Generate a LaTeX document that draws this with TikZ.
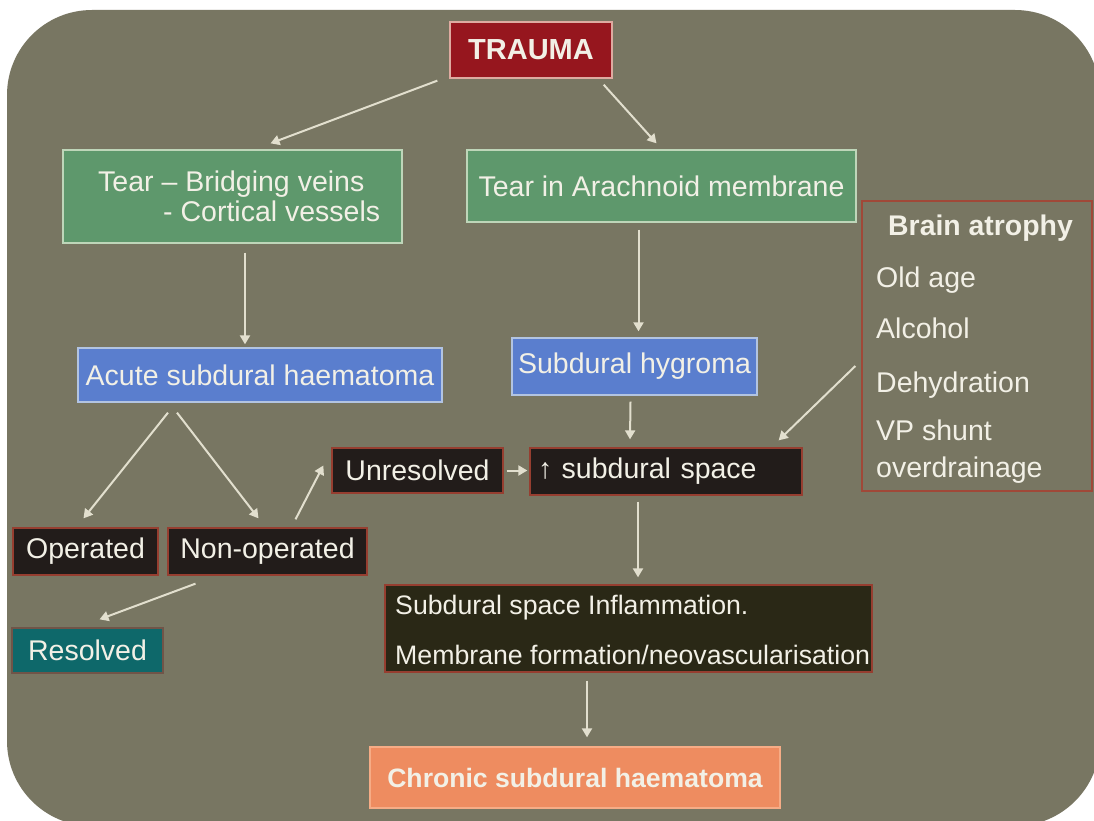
\documentclass[tikz,border=0pt]{standalone}
\usepackage{fontspec}
\setmainfont{Liberation Sans}
\usetikzlibrary{arrows.meta,calc}
\definecolor{bgc}{RGB}{120,118,98}
\definecolor{txtc}{RGB}{242,240,230}
\definecolor{arrc}{RGB}{226,223,206}
\definecolor{traumaf}{RGB}{150,22,30}
\definecolor{traumad}{RGB}{222,170,160}
\definecolor{greenf}{RGB}{94,152,108}
\definecolor{greend}{RGB}{190,214,185}
\definecolor{bluef}{RGB}{90,126,206}
\definecolor{blued}{RGB}{178,196,226}
\definecolor{darkf}{RGB}{34,28,26}
\definecolor{darkd}{RGB}{150,62,48}
\definecolor{tealf}{RGB}{14,104,106}
\definecolor{teald}{RGB}{112,84,72}
\definecolor{inflf}{RGB}{42,40,22}
\definecolor{chronf}{RGB}{238,140,96}
\definecolor{chrond}{RGB}{246,172,134}
\definecolor{atrod}{RGB}{160,72,56}
\begin{document}
\begin{tikzpicture}[x=1pt,y=-1pt,
  box/.style={draw, line width=1.3pt, inner sep=0pt, text=txtc,
    font=\fontsize{28.5}{30}\selectfont},
  traumabox/.style={box, fill=traumaf, draw=traumad, font=\fontsize{29}{30}\selectfont\bfseries},
  greenbox/.style={box, fill=greenf, draw=greend},
  bluebox/.style={box, fill=bluef, draw=blued},
  darkbox/.style={box, fill=darkf, draw=darkd},
  tealbox/.style={box, fill=tealf, draw=teald},
  inflbox/.style={box, fill=inflf, draw=darkd},
  chronbox/.style={box, fill=chronf, draw=chrond, font=\fontsize{26.6}{30}\selectfont\bfseries},
  atrobox/.style={draw=atrod, line width=1.3pt, inner sep=0pt},
  plain/.style={inner sep=0pt, text=txtc, font=\fontsize{28.5}{30}\selectfont, anchor=base west},
  arr/.style={draw=arrc, line width=2pt, -{Triangle[length=9pt,width=10pt]}}
]
\useasboundingbox (0,0) rectangle (1094,821);
\fill[white] (0,0) rectangle (1094,821);
\begin{scope}
\clip (0,0) rectangle (1094,821);
\fill[bgc, rounded corners=85pt] (7,10) rectangle (1100,826);
\end{scope}

% nodes
\node[traumabox, minimum width=162pt, minimum height=56pt] (trauma) at (531,50) {TRAUMA};
\node[greenbox, minimum width=339pt, minimum height=93pt] (tearbv) at (232.5,196.5) {};
\node[plain] (tearbv1) at (98,192) {Tear – Bridging veins};
\node[plain] (tearbv2) at (163,222) {- Cortical vessels};
\node[greenbox, minimum width=389pt, minimum height=72pt] (arach) at (661.5,186) {Tear in Arachnoid membrane};
\node[atrobox, minimum width=230pt, minimum height=290pt] (atro) at (977,346) {};
\node[plain, font=\fontsize{28.4}{30}\selectfont\bfseries] (ba) at (888,235) {Brain atrophy};
\node[plain] (oldage) at (876,287) {Old age};
\node[plain] (alcohol) at (876,338) {Alcohol};
\node[plain] (dehyd) at (876,392) {Dehydration};
\node[plain] (vp) at (876,440) {VP shunt};
\node[plain] (overd) at (876,477) {overdrainage};
\node[bluebox, minimum width=364pt, minimum height=54pt] (acute) at (260,375) {Acute subdural haematoma};
\node[bluebox, minimum width=245pt, minimum height=57pt] (hygroma) at (634.5,366.5) {Subdural hygroma};
\node[darkbox, minimum width=171pt, minimum height=45pt] (unres) at (417.5,470.5) {Unresolved};
\node[darkbox, minimum width=272pt, minimum height=47pt, text width=256pt, align=left] (subsp) at (666,471.5) {↑ subdural space};
\node[darkbox, minimum width=145pt, minimum height=47pt] (operated) at (85.5,551.5) {Operated};
\node[darkbox, minimum width=199pt, minimum height=47pt] (nonop) at (267.5,551.5) {Non-operated};
\node[tealbox, minimum width=151pt, minimum height=45pt] (resolved) at (87.5,650.5) {Resolved};
\node[inflbox, minimum width=487pt, minimum height=87pt] (inflam) at (628.5,628.5) {};
\node[plain, font=\fontsize{26.7}{30}\selectfont] (infl1) at (395,614) {Subdural space Inflammation.};
\node[plain, font=\fontsize{26.7}{30}\selectfont] (infl2) at (395,664) {Membrane formation/neovascularisation};
\node[chronbox, minimum width=410pt, minimum height=61pt] (chronic) at (575,777.5) {Chronic subdural haematoma};

% connectors
\draw[arr] ($(trauma.south west)+(-12,2)$) -- ($(tearbv.north)+(38,-6)$);
\draw[arr] ($(trauma.south east)+(-9,6)$) -- ($(arach.north)+(-5,-6)$);
\draw[arr] ($(tearbv.south)+(12.5,9)$) -- ($(acute.north)+(-15,-3)$);
\draw[arr] ($(arach.south)+(-23,7)$) -- ($(hygroma.north)+(4,-6)$);
\draw[arr] ($(acute.south)+(-92,10)$) -- ($(operated.north)+(-2,-9)$);
\draw[arr] ($(acute.south)+(-83,10)$) -- ($(nonop.north)+(-9,-9)$);
\draw[arr] ($(nonop.north)+(28,-8)$) -- ($(unres.west)+(-8,-5)$);
\draw[arr] ($(nonop.south)+(-72,8)$) -- ($(resolved.north)+(12,-8)$);
\draw[arr] ($(unres.east)+(3,0)$) -- ($(subsp.west)+(-2,-1)$);
\draw[arr] ($(hygroma.south)+(-4,6)$) -- ($(subsp.north)+(-36,-8)$);
\draw[arr] ($(atro.west)+(-6,20)$) -- ($(subsp.north east)+(-24,-7)$);
\draw[arr] ($(subsp.south)+(-28,6)$) -- ($(inflam.north)+(9.5,-7)$);
\draw[arr] ($(inflam.south)+(-41.5,8)$) -- ($(chronic.north)+(12,-9)$);
\end{tikzpicture}
\end{document}
